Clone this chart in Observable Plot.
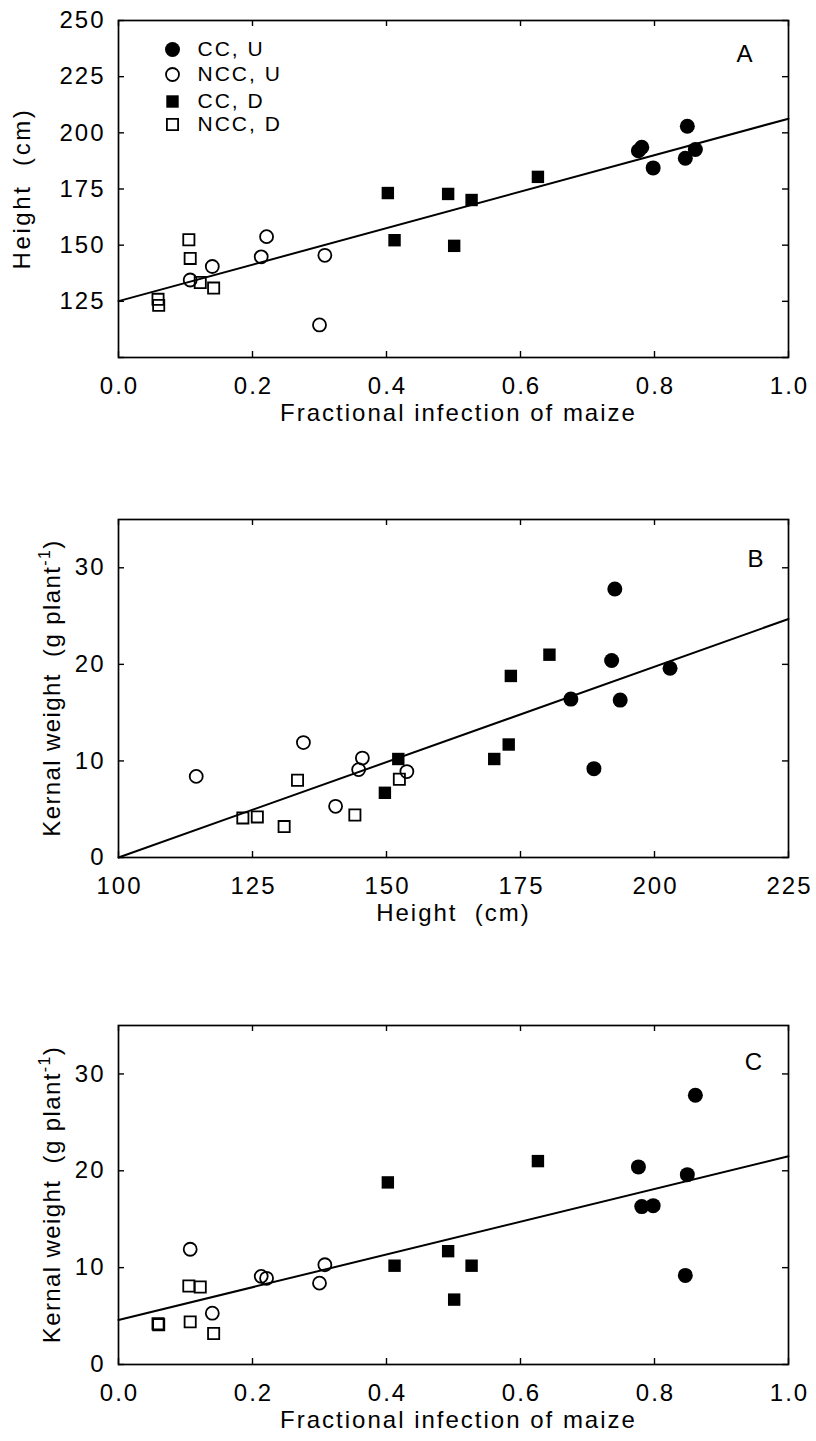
<!DOCTYPE html>
<html>
<head>
<meta charset="utf-8">
<script src="https://cdn.jsdelivr.net/npm/d3@7"></script>
<script src="https://cdn.jsdelivr.net/npm/@observablehq/plot@0.6"></script>
<style>
  body { margin: 0; background: #fff; }
  #chart svg { display: block; }
  #chart svg text { letter-spacing: 2px; white-space: pre; }
</style>
</head>
<body>
<div id="chart"></div>
<script>
// ---- data ----
const groupNames = ["CC, U", "NCC, U", "CC, D", "NCC, D"];
const plantGroup = [
  "CC, U", "CC, U", "CC, U", "CC, U", "CC, U", "CC, U",
  "CC, D", "CC, D", "CC, D", "CC, D", "CC, D", "CC, D",
  "NCC, U", "NCC, U", "NCC, U", "NCC, U", "NCC, U", "NCC, U",
  "NCC, D", "NCC, D", "NCC, D", "NCC, D", "NCC, D", "NCC, D"
];
const infection = [
  0.849, 0.861, 0.776, 0.798, 0.781, 0.846,
  0.626, 0.402, 0.492, 0.527, 0.412, 0.501,
  0.300, 0.107, 0.308, 0.213, 0.221, 0.140,
  0.105, 0.122, 0.107, 0.142, 0.059, 0.060
];
const plantHeight = [
  202.9, 192.6, 192.0, 184.4, 193.6, 188.7,
  180.4, 173.2, 172.8, 170.1, 152.2, 149.7,
  114.5, 134.5, 145.5, 144.8, 153.8, 140.5,
  152.4, 133.4, 144.1, 130.9, 125.9, 123.2
];
const kernelWeight = [
  19.6, 27.8, 20.4, 16.4, 16.3, 9.2,
  21.0, 18.8, 11.7, 10.2, 10.2, 6.7,
  8.4, 11.9, 10.3, 9.1, 8.9, 5.3,
  8.1, 8.0, 4.4, 3.2, 4.2, 4.1
];
// regression lines (end points)
const fitAx = [0, 1],     fitAy = [125.1, 206.3];
const fitBx = [100, 225], fitBy = [0, 24.7];
const fitCx = [0, 1],     fitCy = [4.6, 21.5];
// ticks
const fracTicks = [0, 0.2, 0.4, 0.6, 0.8, 1.0];
const heightTicks = [100, 125, 150, 175, 200, 225, 250];
const heightTickLabelsA = [125, 150, 175, 200, 225, 250];
const heightTicksB = [100, 125, 150, 175, 200, 225];
const kernelTicks = [0, 10, 20, 30];
const panelLetters = ["A", "B", "C"];
const xTitleFrac = "Fractional infection of maize";
const titleHeight = "Height  (cm)";
const titleKernel = [{text: "Kernal weight  (g plant"}, {text: "-1", sup: true}, {text: ")"}];

// ---- build table ----
const rows = infection.map((f, i) => ({
  group: plantGroup[i], infection: f, height: plantHeight[i], kernel: kernelWeight[i]
}));
const fit = (xs, ys) => xs.map((x, i) => ({x, y: ys[i]}));

const FONT = "'Liberation Sans', Arial, Helvetica, sans-serif";
const W = 816, ML = 118, MR = 28;
const styles = {
  "CC, U":  {symbol: "circle", fill: "black", r: 7.5},
  "NCC, U": {symbol: "circle", fill: "none", stroke: "black", strokeWidth: 1.8, r: 6.5},
  "CC, D":  {symbol: "square", fill: "black", r: 7},
  "NCC, D": {symbol: "square", fill: "none", stroke: "black", strokeWidth: 1.8, r: 6.3}
};

function yTitleMark(parts, dx, spacing) {
  return (index, scales, values, dims) => {
    const cy = (dims.marginTop + dims.height - dims.marginBottom) / 2;
    const t = d3.create("svg:text")
      .attr("transform", `translate(${dims.marginLeft + dx},${cy}) rotate(-90)`)
      .attr("text-anchor", "middle")
      .attr("dy", "0.35em")
      .attr("font-size", 24)
      .style("letter-spacing", spacing)
      .attr("fill", "black");
    parts.forEach(p => {
      const ts = t.append("tspan").text(p.text);
      if (p.sup) ts.attr("font-size", 16).attr("dy", -10);
      else if (t.selectAll("tspan").size() > 1) ts.attr("dy", 10);
    });
    return t.node();
  };
}

function panel(o) {
  const frameH = o.height - o.marginTop - o.marginBottom;
  const frameW = W - ML - MR;
  const marks = [
    Plot.frame({stroke: "black", strokeWidth: 1.7}),
    Plot.tickX(o.xTicks, {x: d => d, insetTop: frameH - 6, strokeWidth: 1.4}),
    Plot.tickX(o.xTicks, {x: d => d, insetBottom: frameH - 6, strokeWidth: 1.4}),
    Plot.tickY(o.yTicks, {y: d => d, insetLeft: frameW - 6, strokeWidth: 1.4}),
    Plot.tickY(o.yTicks, {y: d => d, insetRight: frameW - 6, strokeWidth: 1.4}),
    Plot.axisX({ticks: o.xTickLabels, tickFormat: o.xFormat, tickSize: 0, tickPadding: 19, dx: 1, label: null}),
    Plot.axisY({ticks: o.yTickLabels, tickSize: 0, tickPadding: 13, label: null}),
    Plot.line(o.fit, {x: "x", y: "y", stroke: "black", strokeWidth: 2}),
    ...groupNames.map(g => Plot.dot(rows.filter(d => d.group === g), {x: o.x, y: o.y, ...styles[g]})),
    Plot.text([o.letter], {text: d => d, frameAnchor: "top-right", dx: o.letterDx, dy: o.letterDy,
      textAnchor: "middle", lineAnchor: "middle", fontSize: 24}),
    Plot.text([o.xTitle], {text: d => d, frameAnchor: "bottom", dx: o.xTitleDx, dy: 56, fontSize: 24,
      textAnchor: "middle", lineAnchor: "middle", ariaLabel: "x-title"}),
    yTitleMark(o.yTitle, o.yTitleDx, o.yTitleSpacing)
  ];
  if (o.legend) {
    const legendDy = [29, 54, 81, 104];
    groupNames.forEach((g, i) => {
      marks.push(Plot.dot([g], {frameAnchor: "top-left", dx: 54, dy: legendDy[i], ...styles[g]}));
      marks.push(Plot.text([g], {text: d => d, frameAnchor: "top-left", dx: 79, dy: legendDy[i],
        textAnchor: "start", lineAnchor: "middle", fontSize: 21, ariaLabel: "legend-text"}));
    });
  }
  const svg = Plot.plot({
    width: W, height: o.height,
    marginLeft: ML, marginRight: MR, marginTop: o.marginTop, marginBottom: o.marginBottom,
    style: `font-family: ${FONT}; font-size: 24px; color: black; background: white;`,
    x: {domain: o.xDomain, label: null},
    y: {domain: o.yDomain, label: null},
    marks
  });
  svg.querySelectorAll('[aria-label="x-title"] text').forEach(t => t.style.letterSpacing = o.xTitleSpacing);
  svg.querySelectorAll('[aria-label="legend-text"] text').forEach(t => t.style.letterSpacing = "1.5px");
  return svg;
}

const chart = document.getElementById("chart");
chart.append(panel({
  height: 499, marginTop: 20, marginBottom: 142,
  x: d => d.infection, y: d => d.height,
  xDomain: [0, 1], yDomain: [100, 250],
  xTicks: fracTicks, xTickLabels: fracTicks, xFormat: d3.format(".1f"),
  yTicks: heightTicks, yTickLabels: heightTickLabelsA,
  fit: fit(fitAx, fitAy), letter: panelLetters[0], letterDx: -43, letterDy: 34,
  xTitle: xTitleFrac, xTitleDx: 5, xTitleSpacing: "2.6px",
  yTitle: [{text: titleHeight}], yTitleDx: -96, yTitleSpacing: "2.6px", legend: true
}));
chart.append(panel({
  height: 506, marginTop: 20, marginBottom: 148,
  x: d => d.height, y: d => d.kernel,
  xDomain: [100, 225], yDomain: [0, 35],
  xTicks: heightTicksB, xTickLabels: heightTicksB, xFormat: d3.format("d"),
  yTicks: kernelTicks, yTickLabels: kernelTicks,
  fit: fit(fitBx, fitBy), letter: panelLetters[1], letterDx: -32, letterDy: 40,
  xTitle: titleHeight, xTitleDx: 0, xTitleSpacing: "3px",
  yTitle: titleKernel, yTitleDx: -66, yTitleSpacing: "1.4px"
}));
chart.append(panel({
  height: 436, marginTop: 20, marginBottom: 77,
  x: d => d.infection, y: d => d.kernel,
  xDomain: [0, 1], yDomain: [0, 35],
  xTicks: fracTicks, xTickLabels: fracTicks, xFormat: d3.format(".1f"),
  yTicks: kernelTicks, yTickLabels: kernelTicks,
  fit: fit(fitCx, fitCy), letter: panelLetters[2], letterDx: -34, letterDy: 37,
  xTitle: xTitleFrac, xTitleDx: 5, xTitleSpacing: "2.6px",
  yTitle: titleKernel, yTitleDx: -66, yTitleSpacing: "1.4px"
}));
</script>
</body>
</html>
